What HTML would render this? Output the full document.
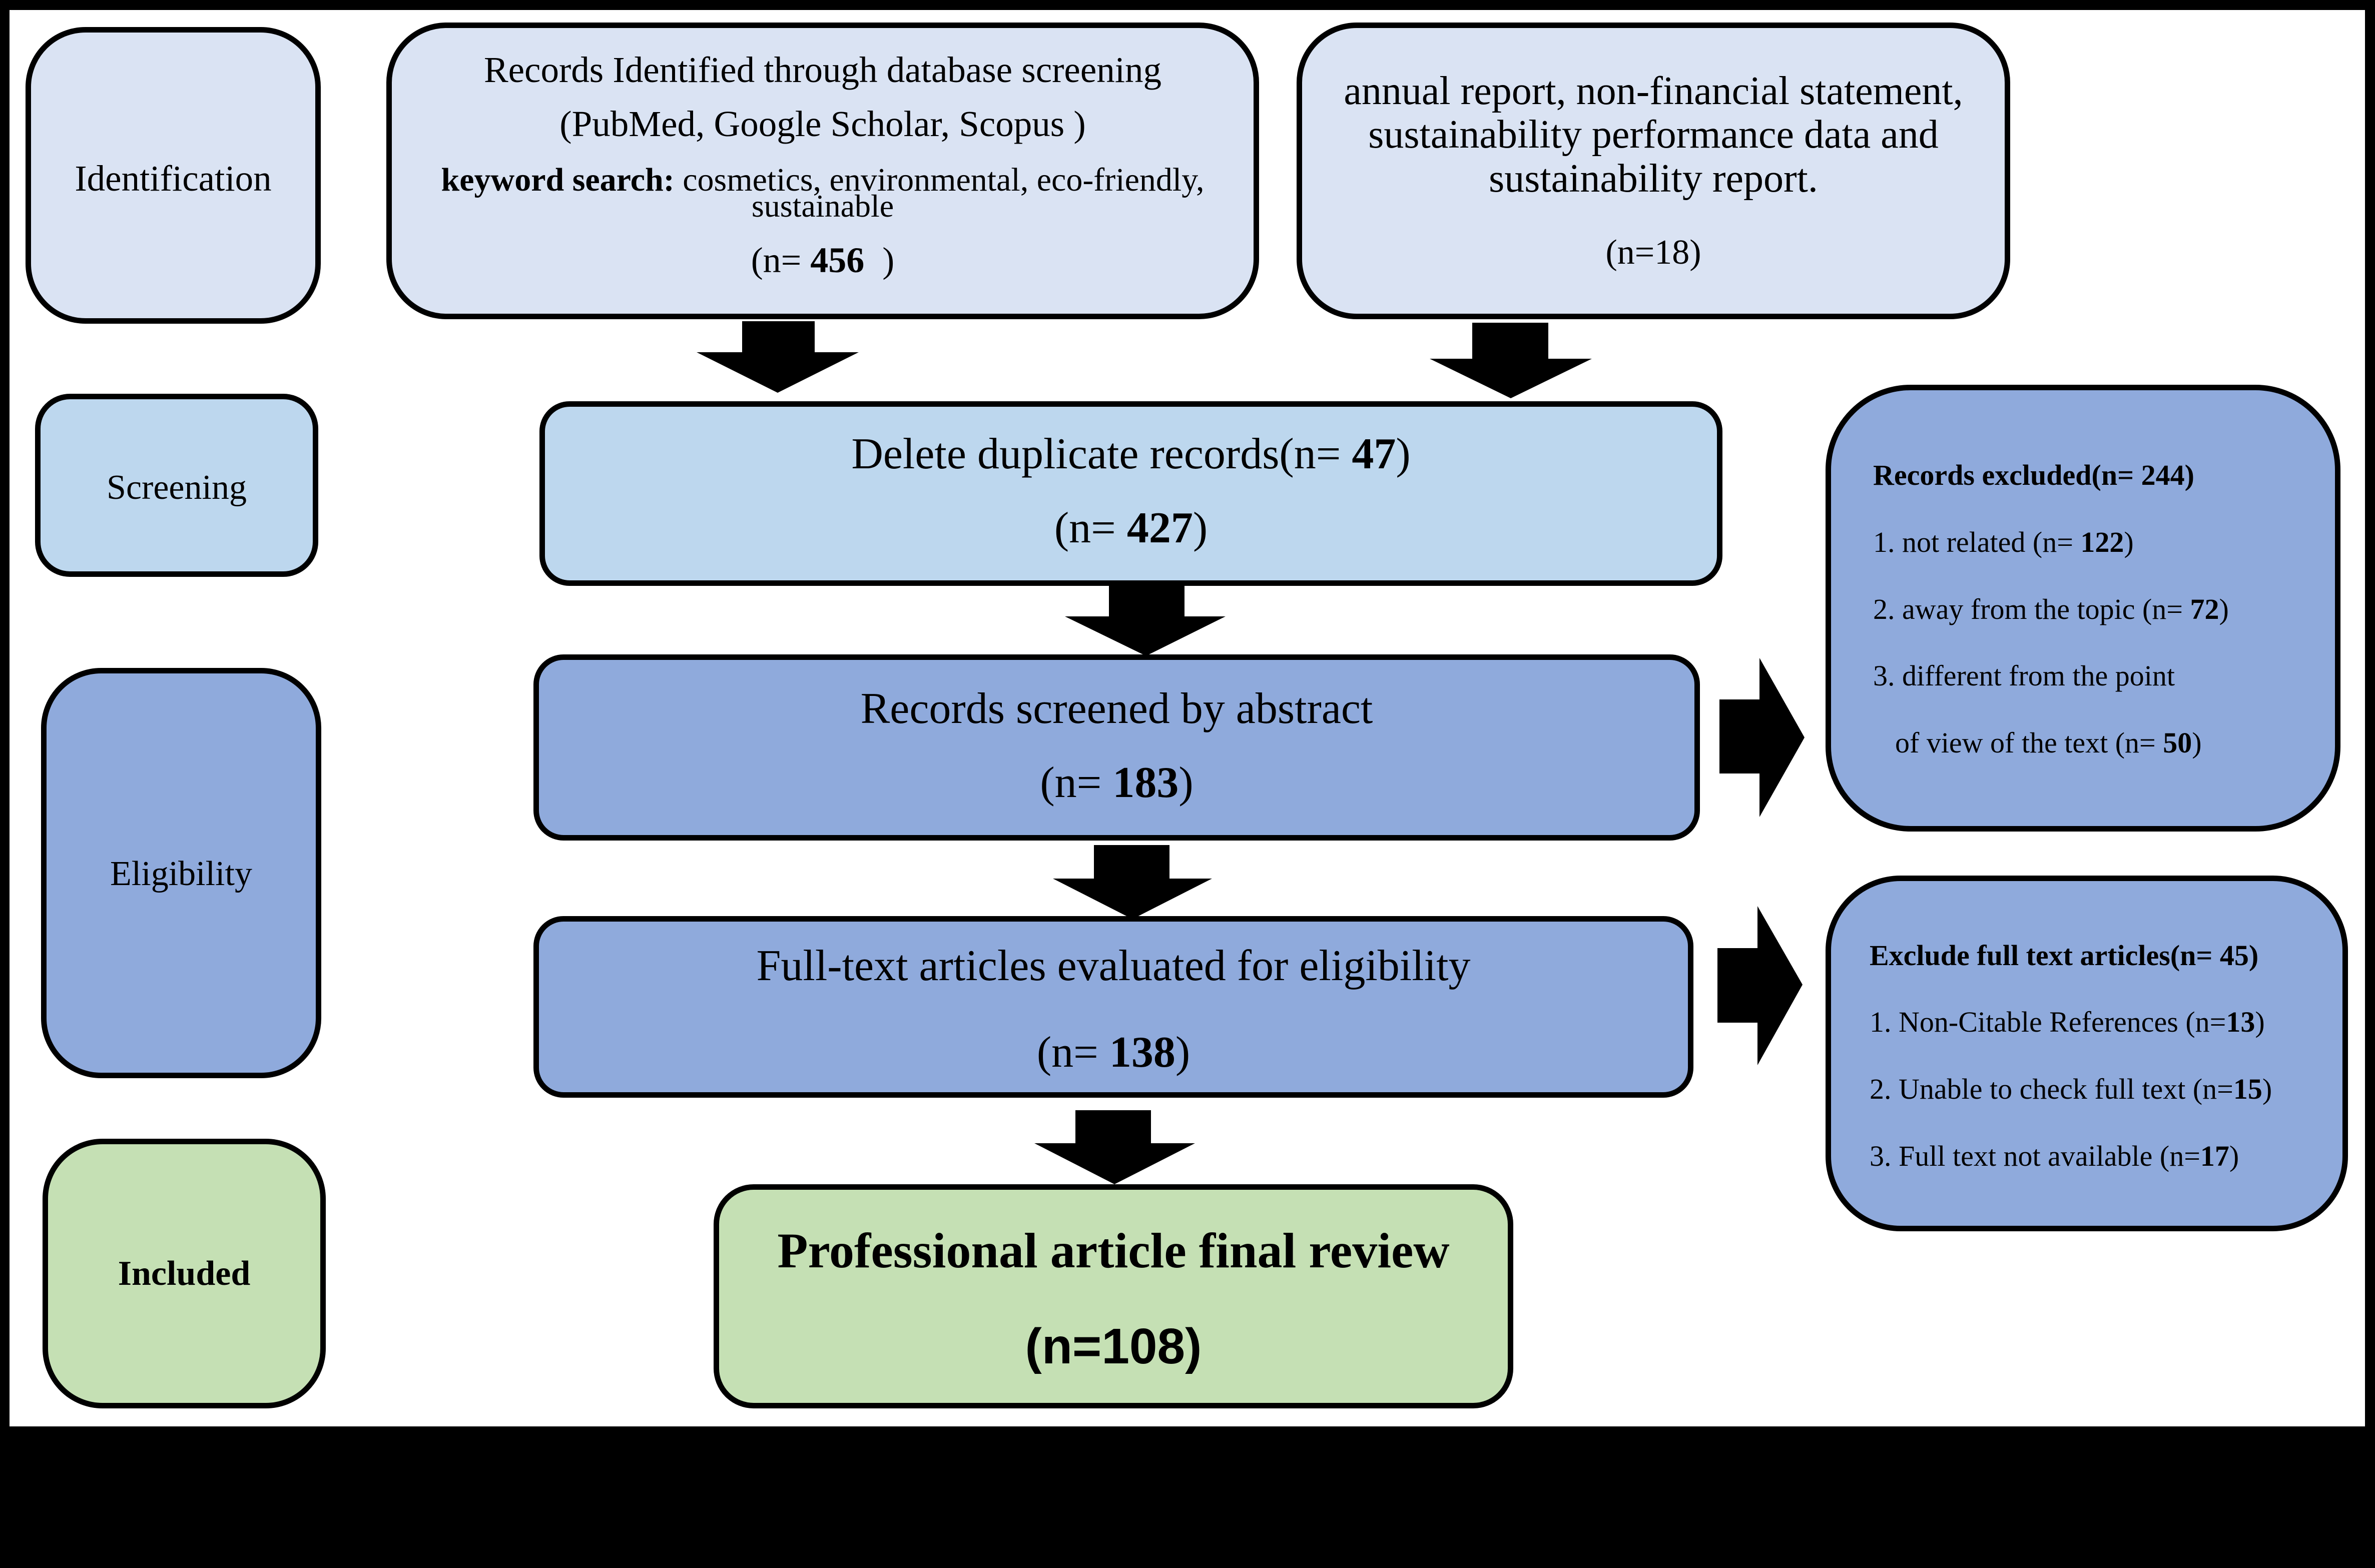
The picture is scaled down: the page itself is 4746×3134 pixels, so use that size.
<!DOCTYPE html>
<html><head><meta charset="utf-8"><style>
body{margin:0;width:4746px;height:3134px;background:#000;position:relative;overflow:hidden;font-family:"Liberation Serif",serif;color:#000}
.wh{position:absolute;left:19px;top:20px;width:4707px;height:2831px;background:#fff}
.b{position:absolute;border:11px solid #000;border-radius:120px;box-sizing:border-box}
.t{position:absolute;white-space:nowrap;text-align:center;height:100px;line-height:100px;transform:translateY(-50px)}
.l{position:absolute;white-space:nowrap;height:80px;line-height:80px;transform:translateY(-40px);font-size:58px}
svg{position:absolute;left:0;top:0}
</style></head><body>
<div class="wh"></div>

<div class="b" style="left:51px;top:54px;width:590px;height:593px;background:#dae3f3"></div>
<div class="t" style="left:51px;width:590px;top:357px;font-size:73px">Identification</div>
<div class="b" style="left:70px;top:787px;width:566px;height:366px;background:#bdd7ee;border-radius:70px"></div>
<div class="t" style="left:70px;width:566px;top:975px;font-size:70px">Screening</div>
<div class="b" style="left:82px;top:1335px;width:560px;height:820px;background:#8faadc"></div>
<div class="t" style="left:82px;width:560px;top:1747px;font-size:70px">Eligibility</div>
<div class="b" style="left:85px;top:2276px;width:566px;height:539px;background:#c5e0b4"></div>
<div class="t" style="left:85px;width:566px;top:2546px;font-size:70px;font-weight:bold">Included</div>

<div class="b" style="left:772px;top:45px;width:1744px;height:593px;background:#dae3f3"></div>
<div class="t" style="left:772px;width:1744px;top:140px;font-size:73px">Records Identified through database screening</div>
<div class="t" style="left:772px;width:1744px;top:248px;font-size:73px">(PubMed, Google Scholar, Scopus )</div>
<div class="t" style="left:772px;width:1744px;top:360px;font-size:66px"><b>keyword search:</b> cosmetics, environmental, eco-friendly,</div>
<div class="t" style="left:772px;width:1744px;top:412px;font-size:64px">sustainable</div>
<div class="t" style="left:772px;width:1744px;top:520px;font-size:72px">(n= <b>456</b>&nbsp;&nbsp;)</div>

<div class="b" style="left:2591px;top:45px;width:1426px;height:593px;background:#dae3f3"></div>
<div class="t" style="left:2591px;width:1426px;top:182px;font-size:80px">annual report, non-financial statement,</div>
<div class="t" style="left:2591px;width:1426px;top:269px;font-size:80px">sustainability performance data and</div>
<div class="t" style="left:2591px;width:1426px;top:357px;font-size:80px">sustainability report.</div>
<div class="t" style="left:2591px;width:1426px;top:505px;font-size:70px">(n=18)</div>

<div class="b" style="left:1078px;top:802px;width:2364px;height:369px;background:#bdd7ee;border-radius:60px"></div>
<div class="t" style="left:1078px;width:2364px;top:908px;font-size:88px">Delete duplicate records(n= <b>47</b>)</div>
<div class="t" style="left:1078px;width:2364px;top:1056px;font-size:88px">(n= <b>427</b>)</div>

<div class="b" style="left:1066px;top:1308px;width:2331px;height:372px;background:#8faadc;border-radius:60px"></div>
<div class="t" style="left:1066px;width:2331px;top:1417px;font-size:88px">Records screened by abstract</div>
<div class="t" style="left:1066px;width:2331px;top:1565px;font-size:88px">(n= <b>183</b>)</div>

<div class="b" style="left:1066px;top:1831px;width:2318px;height:363px;background:#8faadc;border-radius:60px"></div>
<div class="t" style="left:1066px;width:2318px;top:1931px;font-size:88px">Full-text articles evaluated for eligibility</div>
<div class="t" style="left:1066px;width:2318px;top:2104px;font-size:88px">(n= <b>138</b>)</div>

<div class="b" style="left:1426px;top:2367px;width:1598px;height:448px;background:#c5e0b4;border-radius:80px"></div>
<div class="t" style="left:1426px;width:1598px;top:2500px;font-size:100px;font-weight:bold">Professional article final review</div>
<div class="t" style="left:1426px;width:1598px;top:2691px;font-size:100px;font-weight:bold;font-family:'Liberation Sans',sans-serif">(n=108)</div>

<div class="b" style="left:3648px;top:769px;width:1029px;height:893px;background:#8faadc;border-radius:170px"></div>
<div class="l" style="left:3743px;top:950px;font-weight:bold">Records excluded(n= 244)</div>
<div class="l" style="left:3743px;top:1084px">1. not related (n= <b>122</b>)</div>
<div class="l" style="left:3743px;top:1218px">2. away from the topic (n= <b>72</b>)</div>
<div class="l" style="left:3743px;top:1351px">3. different from the point</div>
<div class="l" style="left:3787px;top:1485px">of view of the text (n= <b>50</b>)</div>

<div class="b" style="left:3648px;top:1750px;width:1044px;height:711px;background:#8faadc;border-radius:150px"></div>
<div class="l" style="left:3736px;top:1910px;font-weight:bold">Exclude full text articles(n= 45)</div>
<div class="l" style="left:3736px;top:2043px">1. Non-Citable References (n=<b>13</b>)</div>
<div class="l" style="left:3736px;top:2177px">2. Unable to check full text (n=<b>15</b>)</div>
<div class="l" style="left:3736px;top:2311px">3. Full text not available (n=<b>17</b>)</div>

<svg width="4746" height="3134">
<g fill="#000">
<polygon points="1483,642 1628,642 1628,704 1716,704 1554,785 1392,704 1483,704"/>
<polygon points="2942,645 3094,645 3094,717 3181,717 3019,796 2857,717 2942,717"/>
<polygon points="2216,1171 2367,1171 2367,1232 2449,1232 2290,1311 2128,1232 2216,1232"/>
<polygon points="2186,1689 2337,1689 2337,1756 2422,1756 2263,1837 2104,1756 2186,1756"/>
<polygon points="2149,2219 2300,2219 2300,2285 2388,2285 2227,2367 2067,2285 2149,2285"/>
<polygon points="3436,1398 3516,1398 3516,1315 3606,1474 3516,1633 3516,1546 3436,1546"/>
<polygon points="3432,1895 3512,1895 3512,1811 3602,1968 3512,2129 3512,2044 3432,2044"/>
</g>
</svg>
</body></html>
